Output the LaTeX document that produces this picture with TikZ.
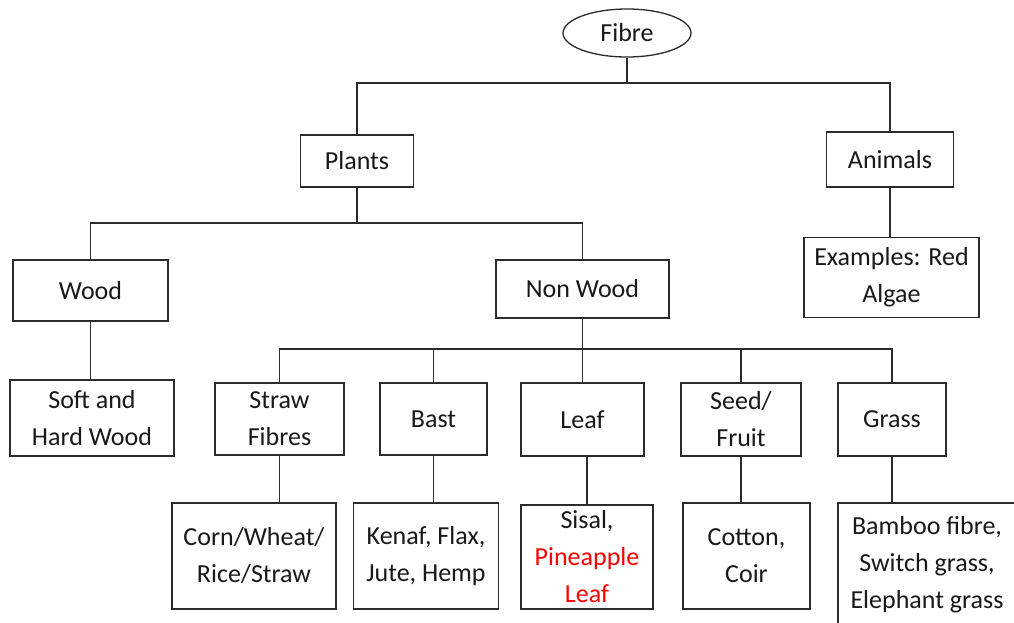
\documentclass[tikz,border=0pt]{standalone}
\usepackage{fontspec}
\setmainfont{Carlito}
\usetikzlibrary{shapes.geometric}
\definecolor{linecol}{HTML}{2B2B2B}
\definecolor{redtext}{HTML}{FF0000}
\tikzset{
  box/.style={draw=linecol, line width=1.3pt, rectangle, inner sep=0pt, align=center,
    font=\fontsize{26}{37}\selectfont, text=black!90},
  oval/.style={draw=linecol, line width=1.3pt, ellipse, inner sep=0pt, align=center,
    font=\fontsize{26}{37}\selectfont, text=black!90},
  conn/.style={draw=linecol, line width=1.3pt}
}
\begin{document}
\begin{tikzpicture}[x=1pt,y=-1pt]
\clip (0,0) rectangle (1014,622);
\fill[white] (0,0) rectangle (1014,622);
% nodes
\node[oval, minimum width=128pt, minimum height=48pt] (fibre) at (627,33) {Fibre};
\node[box, minimum width=113pt, minimum height=52pt] (plants) at (357,161) {Plants};
\node[box, minimum width=127pt, minimum height=55pt] (animals) at (890,159.5) {Animals};
\node[box, minimum width=155pt, minimum height=61pt] (wood) at (90.5,290.5) {Wood};
\node[box, minimum width=173pt, minimum height=58pt] (nonwood) at (582.5,289) {Non Wood};
\node[box, minimum width=175pt, minimum height=80pt] (algae) at (891.5,277.5) {Examples: Red\\Algae};
\node[box, minimum width=164pt, minimum height=76pt] (soft) at (92,418) {Soft and\\Hard Wood};
\node[box, minimum width=129pt, minimum height=72pt] (straw) at (279.5,419) {Straw\\Fibres};
\node[box, minimum width=107pt, minimum height=72pt] (bast) at (433.5,419) {Bast};
\node[box, minimum width=123pt, minimum height=73pt] (leaf) at (582.5,419.5) {Leaf};
\node[box, minimum width=120pt, minimum height=73pt] (seed) at (741,419.5) {Seed/\\Fruit};
\node[box, minimum width=108pt, minimum height=73pt] (grass) at (892,419.5) {Grass};
\node[box, minimum width=164pt, minimum height=106pt] (corn) at (254,556) {Corn/Wheat/\\Rice/Straw};
\node[box, minimum width=145pt, minimum height=106pt] (kenaf) at (426,556) {Kenaf, Flax,\\Jute, Hemp};
\node[box, minimum width=132pt, minimum height=104pt] (sisal) at (587,557) {Sisal,\\\textcolor{redtext}{Pineapple}\\\textcolor{redtext}{Leaf}};
\node[box, minimum width=127pt, minimum height=106pt] (cotton) at (746.5,556) {Cotton,\\Coir};
\node[box, minimum width=178pt, minimum height=124pt] (bamboo) at (927,565) {Bamboo fibre,\\Switch grass,\\Elephant grass};
% junctions
\coordinate (b0) at (627,83);
\coordinate (b1) at (358,223);
\coordinate (b2) at (583,349);
% connectors
\draw[conn] (fibre.south) -- (b0);
\draw[conn] (plants.north) -- (plants.north |- b0) -- (animals.north |- b0) -- (animals.north);
\draw[conn] (plants.south) -- (plants.south |- b1);
\draw[conn] (wood.north) -- (wood.north |- b1) -- (nonwood.north |- b1) -- (nonwood.north);
\draw[conn] (animals.south) -- (animals.south |- algae.north);
\draw[conn] (wood.south) -- (wood.south |- soft.north);
\draw[conn] (nonwood.south) -- (leaf.north);
\draw[conn] (straw.north) -- (straw.north |- b2) -- (grass.north |- b2) -- (grass.north);
\draw[conn] (bast.north) -- (bast.north |- b2);
\draw[conn] (seed.north) -- (seed.north |- b2);
\draw[conn] (straw.south) -- (straw.south |- corn.north);
\draw[conn] (bast.south) -- (bast.south |- kenaf.north);
\draw[conn] (sisal.north) -- (sisal.north |- leaf.south);
\draw[conn] (seed.south) -- (seed.south |- cotton.north);
\draw[conn] (grass.south) -- (grass.south |- bamboo.north);
\end{tikzpicture}
\end{document}
